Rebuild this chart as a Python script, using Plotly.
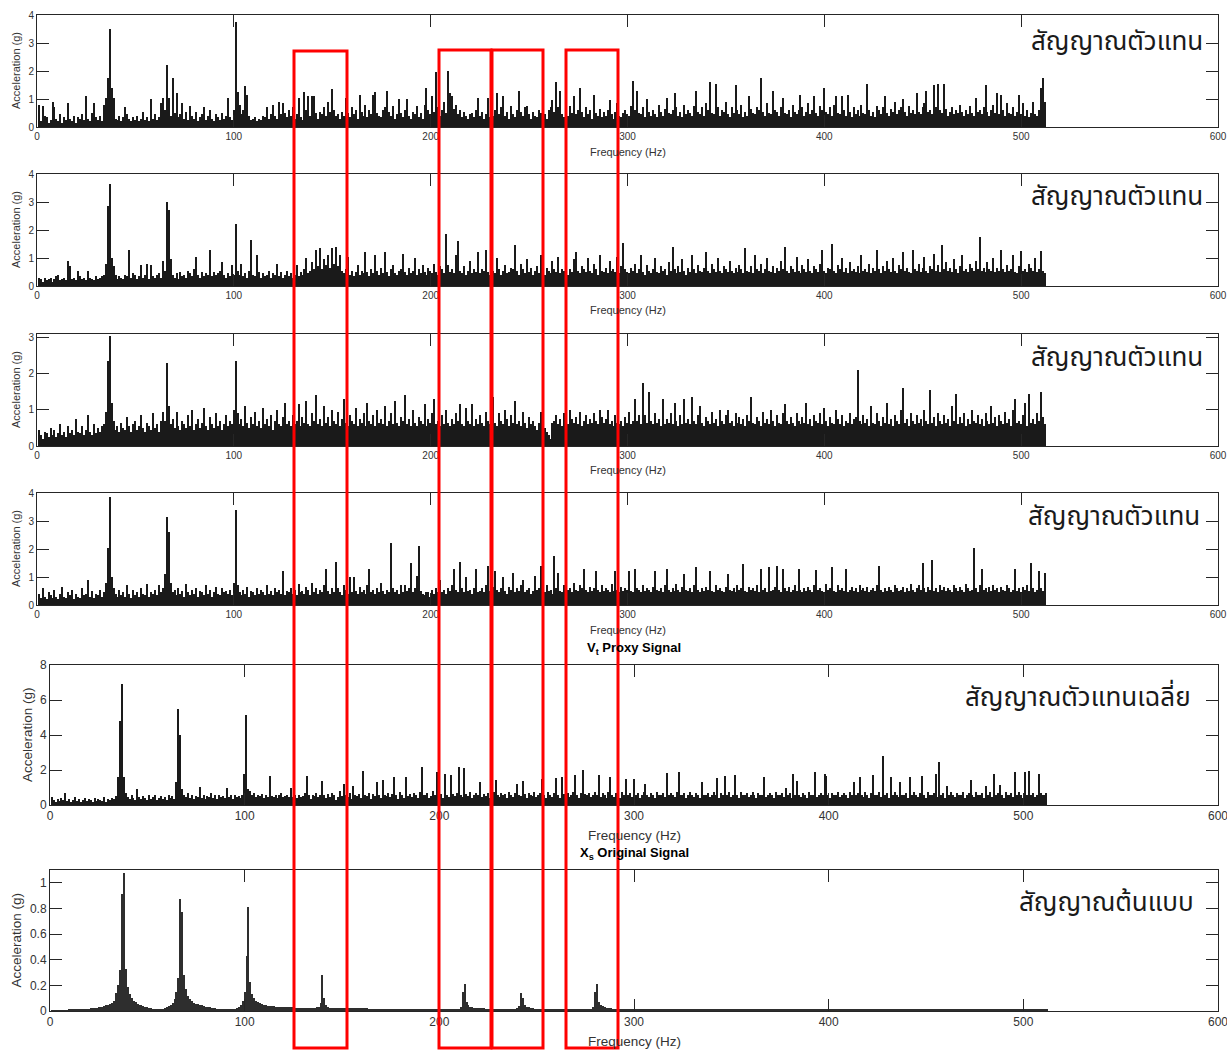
import plotly.graph_objects as go

# ---------------------------------------------------------------
# Spectrum data: 1 Hz bins from 1 to 512 Hz
# proxy spectra are stored in hundredths of g, the original in thousandths of g
# ---------------------------------------------------------------
FREQ_HZ = list(range(1, 513))

PROXY_1_CG = [
    80, 20, 75, 40, 35, 15, 25, 90, 70, 30, 20, 45, 15, 35, 25, 85, 30, 20, 40, 15, 35, 30, 45, 25, 110, 30, 20, 50, 85, 35, 25, 40,
    20, 80, 105, 175, 350, 140, 105, 30, 25, 40, 20, 35, 70, 45, 30, 20, 35, 25, 40, 20, 30, 55, 25, 35, 20, 100, 30, 45, 25, 35, 85, 105,
    60, 220, 105, 40, 175, 50, 120, 35, 45, 85, 30, 55, 25, 75, 40, 30, 55, 20, 35, 45, 70, 25, 40, 60, 30, 20, 45, 35, 25, 50, 30, 40,
    105, 35, 25, 60, 375, 125, 80, 45, 60, 145, 115, 40, 25, 30, 35, 20, 30, 25, 40, 35, 70, 30, 45, 80, 40, 30, 90, 45, 85, 50, 35, 60,
    40, 70, 30, 45, 105, 35, 25, 125, 60, 110, 40, 110, 110, 50, 30, 55, 45, 70, 40, 90, 55, 135, 60, 40, 45, 30, 55, 40, 105, 50, 35, 70,
    45, 60, 30, 115, 55, 40, 80, 35, 60, 45, 115, 125, 50, 40, 35, 60, 70, 130, 55, 40, 75, 30, 45, 100, 50, 35, 60, 100, 40, 30, 55, 45,
    75, 35, 50, 30, 80, 140, 60, 45, 110, 55, 195, 70, 40, 60, 90, 50, 200, 120, 110, 65, 80, 45, 60, 35, 55, 40, 30, 45, 50, 35, 60, 105,
    40, 55, 30, 45, 105, 35, 50, 40, 60, 120, 45, 70, 110, 40, 55, 30, 75, 45, 35, 60, 130, 55, 40, 70, 75, 45, 30, 55, 40, 35, 60, 50,
    120, 45, 30, 60, 70, 95, 55, 160, 70, 130, 45, 35, 60, 40, 75, 50, 110, 45, 60, 140, 55, 35, 70, 45, 60, 30, 115, 50, 40, 65, 35, 55,
    40, 60, 95, 45, 30, 55, 85, 40, 35, 50, 60, 45, 40, 75, 165, 60, 130, 50, 45, 70, 35, 100, 55, 40, 60, 45, 35, 80, 55, 40, 65, 105,
    50, 45, 60, 120, 70, 40, 55, 35, 80, 45, 60, 50, 40, 75, 130, 55, 45, 70, 40, 85, 60, 160, 50, 45, 155, 70, 40, 60, 55, 90, 45, 35,
    70, 50, 150, 60, 45, 80, 35, 55, 40, 110, 65, 50, 45, 70, 60, 175, 55, 40, 85, 50, 45, 130, 60, 55, 40, 70, 105, 50, 45, 60, 35, 80,
    55, 45, 60, 115, 70, 40, 55, 85, 45, 60, 110, 50, 40, 75, 60, 140, 55, 45, 70, 40, 80, 110, 50, 45, 110, 60, 40, 115, 55, 35, 70, 45,
    60, 40, 80, 50, 45, 155, 60, 40, 55, 35, 75, 60, 45, 70, 110, 50, 40, 65, 55, 90, 45, 60, 70, 100, 55, 40, 75, 50, 60, 45, 120, 55,
    45, 70, 85, 130, 55, 60, 45, 150, 70, 155, 60, 50, 155, 65, 40, 55, 70, 45, 60, 50, 80, 55, 40, 60, 45, 75, 50, 40, 105, 55, 60, 45,
    70, 150, 55, 40, 60, 80, 50, 120, 45, 115, 60, 40, 85, 50, 45, 70, 40, 55, 115, 45, 85, 40, 60, 35, 50, 90, 45, 40, 60, 140, 175, 90,
]

PROXY_2_CG = [
    30, 25, 15, 30, 20, 25, 30, 15, 25, 35, 40, 20, 25, 30, 20, 90, 70, 25, 30, 20, 55, 35, 25, 30, 20, 55, 30, 25, 20, 35, 25, 30,
    35, 40, 80, 285, 365, 100, 70, 40, 25, 35, 30, 25, 40, 35, 130, 30, 45, 40, 25, 35, 75, 30, 40, 80, 25, 75, 35, 30, 40, 45, 30, 90,
    55, 300, 270, 95, 40, 30, 45, 25, 50, 35, 40, 30, 55, 45, 35, 60, 105, 40, 30, 50, 35, 45, 40, 130, 35, 50, 40, 45, 55, 85, 40, 30,
    45, 35, 75, 40, 220, 55, 40, 80, 35, 45, 30, 55, 165, 40, 35, 110, 50, 30, 45, 35, 40, 55, 30, 45, 40, 80, 35, 50, 30, 40, 55, 35,
    45, 30, 40, 75, 35, 50, 40, 60, 100, 45, 55, 85, 60, 130, 70, 135, 60, 95, 75, 110, 65, 135, 80, 140, 70, 110, 55, 45, 60, 105, 40, 55,
    35, 50, 75, 40, 55, 45, 120, 50, 35, 60, 45, 110, 55, 40, 65, 45, 120, 50, 35, 60, 75, 45, 40, 55, 60, 115, 50, 40, 65, 45, 55, 100,
    40, 60, 45, 75, 50, 40, 65, 55, 45, 80, 50, 40, 70, 60, 45, 185, 75, 50, 60, 45, 110, 160, 55, 45, 70, 40, 55, 90, 45, 60, 50, 120,
    45, 60, 55, 130, 50, 40, 70, 55, 45, 100, 60, 40, 55, 75, 45, 50, 65, 60, 145, 55, 40, 80, 60, 45, 95, 50, 65, 40, 55, 70, 45, 110,
    50, 40, 65, 55, 45, 90, 60, 50, 105, 45, 60, 55, 75, 40, 60, 50, 95, 120, 55, 45, 70, 60, 50, 100, 55, 45, 80, 60, 40, 110, 55, 50,
    65, 45, 90, 55, 60, 50, 105, 45, 70, 155, 60, 50, 45, 65, 55, 80, 45, 60, 110, 50, 40, 75, 55, 45, 60, 100, 50, 45, 70, 55, 60, 40,
    85, 55, 140, 60, 45, 70, 50, 95, 55, 40, 65, 50, 110, 60, 45, 75, 55, 50, 65, 120, 55, 45, 80, 60, 50, 100, 55, 45, 70, 60, 50, 90,
    55, 45, 65, 50, 75, 60, 45, 135, 55, 50, 70, 45, 110, 60, 55, 80, 45, 60, 100, 55, 50, 70, 45, 65, 55, 90, 60, 140, 55, 45, 70, 60,
    50, 105, 55, 45, 75, 60, 50, 95, 55, 45, 70, 60, 50, 80, 130, 55, 45, 65, 60, 150, 55, 45, 75, 60, 100, 50, 65, 45, 85, 55, 60, 50,
    70, 45, 110, 55, 60, 50, 80, 45, 65, 55, 130, 60, 45, 70, 55, 90, 60, 50, 100, 55, 45, 75, 60, 120, 55, 65, 50, 45, 130, 60, 55, 80,
    50, 65, 105, 55, 45, 70, 60, 115, 55, 75, 50, 145, 60, 85, 55, 65, 50, 95, 60, 45, 70, 110, 55, 60, 50, 80, 65, 55, 90, 60, 175, 55,
    65, 50, 85, 60, 55, 100, 50, 65, 55, 130, 60, 50, 75, 55, 60, 110, 50, 45, 70, 125, 55, 60, 50, 80, 65, 55, 100, 50, 60, 125, 55, 45,
]

PROXY_3_CG = [
    45, 30, 20, 40, 35, 25, 50, 30, 45, 25, 35, 60, 30, 40, 25, 55, 35, 45, 30, 75, 40, 35, 55, 30, 45, 85, 40, 30, 60, 35, 50, 40,
    55, 60, 95, 235, 305, 120, 70, 45, 55, 40, 65, 50, 45, 80, 55, 40, 60, 70, 45, 55, 85, 50, 40, 65, 55, 45, 90, 50, 60, 40, 70, 95,
    70, 230, 110, 60, 75, 50, 95, 55, 45, 70, 60, 50, 85, 55, 100, 45, 60, 75, 50, 65, 105, 55, 45, 80, 60, 50, 90, 55, 70, 45, 60, 85,
    55, 70, 60, 100, 235, 90, 60, 75, 55, 110, 65, 50, 80, 60, 95, 55, 70, 50, 105, 60, 75, 55, 85, 45, 70, 100, 60, 55, 80, 120, 60, 70,
    55, 85, 60, 70, 115, 55, 80, 65, 125, 60, 55, 90, 70, 140, 60, 75, 55, 110, 65, 80, 55, 100, 70, 60, 95, 55, 75, 130, 65, 55, 85, 70,
    60, 105, 55, 75, 65, 90, 55, 120, 70, 60, 85, 55, 100, 65, 75, 60, 110, 55, 70, 90, 60, 125, 65, 55, 80, 70, 140, 60, 75, 55, 100, 65,
    55, 80, 70, 60, 115, 55, 75, 65, 90, 130, 60, 70, 55, 85, 60, 100, 65, 55, 75, 60, 90, 70, 115, 60, 55, 105, 70, 60, 115, 55, 75, 60,
    85, 65, 55, 95, 70, 60, 80, 135, 65, 55, 90, 70, 60, 100, 75, 55, 85, 65, 125, 60, 70, 55, 95, 65, 50, 80, 60, 70, 55, 45, 65, 95,
    60, 50, 40, 30, 20, 65, 70, 85, 60, 75, 55, 90, 70, 60, 100, 75, 65, 80, 60, 95, 55, 70, 85, 60, 75, 65, 90, 70, 60, 100, 80, 65,
    75, 100, 60, 70, 55, 85, 65, 60, 70, 55, 80, 65, 95, 60, 70, 130, 70, 85, 60, 175, 85, 65, 150, 70, 60, 90, 65, 75, 55, 130, 60, 75,
    65, 90, 60, 120, 70, 55, 85, 60, 130, 65, 75, 60, 135, 70, 60, 85, 110, 65, 55, 80, 70, 60, 95, 65, 75, 55, 100, 70, 60, 85, 100, 65,
    70, 55, 90, 65, 80, 60, 75, 55, 85, 70, 135, 65, 60, 80, 70, 55, 95, 65, 75, 60, 100, 70, 55, 85, 65, 60, 90, 115, 70, 60, 80, 65,
    55, 90, 70, 60, 80, 65, 120, 60, 75, 55, 85, 70, 65, 90, 60, 105, 70, 55, 80, 65, 60, 100, 75, 60, 85, 55, 70, 65, 90, 60, 75, 80,
    210, 70, 60, 85, 65, 75, 55, 110, 65, 60, 90, 70, 55, 80, 65, 120, 60, 75, 55, 85, 70, 60, 100, 160, 65, 75, 55, 90, 70, 60, 85, 65,
    75, 55, 100, 70, 60, 155, 65, 80, 55, 90, 70, 60, 85, 65, 75, 55, 110, 70, 145, 60, 80, 65, 90, 55, 75, 60, 100, 70, 65, 85, 60, 75,
    55, 90, 70, 60, 110, 65, 80, 55, 85, 70, 60, 95, 65, 75, 55, 100, 130, 65, 70, 60, 85, 120, 55, 145, 65, 75, 60, 90, 70, 150, 80, 60,
]

PROXY_4_CG = [
    40, 25, 60, 30, 20, 45, 35, 25, 55, 30, 20, 40, 65, 30, 25, 45, 35, 55, 20, 40, 30, 25, 60, 35, 40, 90, 30, 50, 25, 40, 35, 55,
    30, 45, 80, 205, 385, 100, 60, 40, 30, 55, 35, 45, 30, 70, 40, 25, 55, 35, 45, 30, 60, 40, 35, 75, 30, 45, 40, 55, 35, 70, 45, 60,
    110, 315, 260, 80, 45, 55, 35, 60, 40, 50, 30, 75, 45, 35, 55, 40, 60, 30, 50, 45, 35, 70, 40, 55, 30, 45, 65, 40, 35, 60, 45, 50,
    40, 55, 35, 80, 340, 70, 45, 35, 55, 40, 65, 30, 50, 45, 35, 60, 40, 55, 45, 35, 70, 40, 50, 35, 60, 45, 55, 40, 120, 35, 50, 45,
    60, 40, 55, 35, 75, 45, 50, 40, 65, 55, 35, 80, 45, 60, 40, 55, 45, 70, 130, 50, 40, 60, 45, 155, 60, 45, 35, 70, 55, 40, 100, 45,
    100, 50, 40, 65, 45, 55, 40, 70, 130, 45, 55, 40, 60, 45, 80, 50, 40, 55, 45, 220, 60, 45, 55, 40, 70, 45, 70, 50, 60, 150, 45, 60,
    105, 210, 50, 40, 35, 45, 45, 30, 55, 40, 60, 45, 90, 45, 55, 40, 60, 50, 70, 130, 55, 45, 155, 60, 45, 100, 50, 55, 40, 60, 130, 45,
    50, 60, 45, 70, 140, 50, 40, 65, 120, 55, 45, 60, 100, 50, 40, 65, 55, 115, 45, 60, 50, 70, 90, 45, 55, 60, 40, 50, 105, 55, 60, 140,
    60, 45, 70, 50, 55, 40, 175, 60, 115, 50, 45, 70, 135, 55, 60, 45, 80, 55, 50, 70, 60, 130, 55, 45, 65, 50, 60, 120, 55, 45, 70, 50,
    60, 55, 45, 75, 50, 120, 55, 45, 65, 50, 60, 55, 120, 50, 45, 130, 60, 55, 45, 70, 50, 60, 55, 45, 65, 120, 55, 50, 60, 45, 70, 130,
    55, 45, 60, 50, 75, 55, 45, 65, 110, 55, 50, 60, 45, 70, 135, 55, 45, 60, 50, 65, 55, 120, 50, 45, 70, 55, 60, 50, 45, 65, 110, 55,
    50, 60, 45, 70, 55, 60, 145, 50, 45, 65, 55, 60, 50, 70, 45, 130, 55, 60, 45, 135, 50, 55, 65, 140, 55, 45, 130, 60, 50, 65, 45, 55,
    70, 50, 130, 55, 45, 60, 50, 65, 55, 45, 70, 125, 55, 60, 50, 45, 75, 55, 60, 135, 50, 45, 70, 55, 60, 50, 130, 45, 55, 65, 50, 60,
    45, 70, 55, 60, 50, 65, 45, 55, 60, 50, 70, 140, 55, 45, 60, 50, 65, 55, 45, 70, 60, 50, 55, 65, 45, 60, 50, 75, 55, 45, 60, 70,
    55, 150, 60, 45, 65, 55, 160, 50, 60, 45, 70, 55, 65, 50, 60, 55, 45, 70, 60, 50, 65, 55, 45, 75, 60, 50, 55, 205, 60, 45, 70, 130,
    55, 60, 45, 65, 50, 70, 55, 60, 45, 65, 55, 50, 70, 60, 45, 55, 130, 50, 60, 45, 65, 55, 70, 50, 150, 60, 45, 55, 120, 60, 50, 115,
]

PROXY_MEAN_CG = [
    45, 30, 20, 35, 25, 40, 30, 70, 25, 35, 20, 30, 45, 25, 35, 20, 30, 40, 25, 35, 30, 20, 40, 25, 35, 30, 25, 45, 20, 35, 30, 40,
    35, 50, 160, 480, 690, 160, 70, 45, 35, 55, 40, 30, 90, 45, 35, 50, 40, 30, 55, 35, 45, 60, 30, 40, 50, 35, 45, 30, 55, 40, 50, 35,
    130, 550, 400, 90, 60, 45, 70, 40, 55, 35, 50, 45, 105, 40, 60, 35, 50, 45, 70, 40, 55, 35, 60, 45, 50, 40, 100, 45, 55, 35, 60, 45,
    50, 40, 60, 180, 515, 90, 80, 55, 70, 45, 60, 50, 65, 40, 55, 45, 165, 50, 45, 60, 40, 55, 70, 45, 50, 60, 45, 100, 45, 60, 40, 55,
    45, 50, 70, 165, 55, 35, 60, 50, 70, 45, 55, 140, 60, 40, 65, 45, 70, 55, 30, 45, 80, 50, 120, 60, 45, 70, 35, 110, 60, 50, 65, 40,
    195, 60, 50, 70, 35, 65, 50, 130, 60, 40, 145, 60, 50, 70, 45, 65, 160, 60, 35, 75, 55, 40, 160, 50, 65, 45, 70, 60, 40, 75, 215, 60,
    55, 70, 40, 50, 80, 60, 190, 55, 65, 40, 180, 60, 45, 170, 65, 50, 70, 220, 60, 45, 210, 65, 50, 75, 40, 55, 70, 60, 130, 45, 65, 50,
    70, 40, 55, 75, 145, 60, 45, 70, 55, 65, 40, 75, 60, 45, 70, 120, 60, 50, 140, 65, 40, 70, 60, 50, 75, 45, 55, 70, 150, 60, 40, 75,
    60, 45, 70, 155, 60, 40, 160, 65, 55, 70, 45, 55, 75, 170, 60, 40, 70, 200, 65, 55, 70, 45, 55, 75, 60, 170, 45, 70, 60, 40, 75, 160,
    60, 45, 70, 60, 40, 75, 60, 150, 55, 70, 45, 150, 55, 70, 40, 55, 75, 120, 60, 45, 70, 60, 40, 75, 60, 55, 70, 45, 185, 55, 70, 60,
    45, 75, 190, 60, 55, 70, 40, 55, 75, 60, 45, 70, 60, 40, 130, 60, 55, 70, 45, 55, 75, 60, 155, 40, 70, 60, 165, 55, 75, 45, 55, 170,
    60, 40, 75, 60, 55, 70, 45, 55, 75, 60, 40, 70, 60, 55, 160, 45, 55, 70, 60, 40, 75, 60, 55, 70, 45, 100, 55, 70, 40, 175, 55, 135,
    60, 45, 70, 60, 40, 75, 60, 55, 190, 45, 55, 70, 60, 180, 165, 60, 40, 70, 60, 55, 75, 45, 55, 70, 60, 40, 75, 60, 130, 55, 70, 160,
    60, 45, 75, 60, 40, 70, 170, 60, 55, 75, 45, 280, 55, 70, 40, 160, 55, 75, 60, 45, 130, 60, 55, 70, 40, 160, 55, 75, 60, 45, 70, 165,
    60, 40, 75, 60, 55, 70, 175, 45, 245, 55, 70, 40, 110, 55, 75, 60, 45, 70, 60, 55, 75, 40, 55, 70, 145, 60, 45, 75, 60, 55, 70, 40,
    110, 55, 75, 45, 180, 55, 70, 115, 60, 40, 75, 60, 55, 70, 45, 190, 55, 75, 60, 40, 190, 60, 195, 55, 70, 45, 55, 180, 70, 60, 55, 70,
]

ORIGINAL_MG = [
    3, 4, 4, 5, 5, 6, 6, 7, 7, 8, 9, 10, 11, 12, 13, 14, 15, 16, 18, 19, 21, 23, 25, 27, 29, 32, 35, 38, 45, 50, 56, 65,
    80, 140, 200, 320, 910, 1080, 330, 190, 130, 100, 80, 68, 58, 50, 44, 38, 33, 29, 25, 22, 19, 16, 14, 13, 15, 19, 24, 30, 38, 48, 62, 90,
    150, 260, 870, 770, 280, 170, 120, 92, 76, 66, 58, 52, 47, 43, 39, 35, 32, 29, 26, 23, 20, 17, 15, 13, 11, 10, 9, 9, 10, 12, 16, 22,
    30, 45, 80, 150, 430, 810, 230, 130, 100, 80, 68, 60, 54, 49, 45, 42, 40, 38, 36, 35, 34, 33, 32, 31, 30, 29, 29, 28, 28, 27, 27, 26,
    26, 26, 25, 25, 25, 25, 25, 26, 28, 35, 60, 280, 100, 45, 32, 27, 25, 24, 23, 22, 22, 21, 21, 21, 21, 21, 20, 20, 20, 20, 20, 20,
    20, 20, 20, 19, 19, 19, 19, 19, 19, 19, 19, 19, 19, 18, 18, 18, 18, 18, 18, 18, 18, 18, 18, 18, 18, 18, 18, 18, 17, 17, 17, 17,
    17, 17, 17, 17, 17, 17, 17, 17, 17, 17, 17, 17, 17, 17, 17, 17, 18, 19, 30, 145, 210, 70, 45, 35, 30, 27, 25, 23, 22, 21, 20, 19,
    18, 18, 17, 17, 16, 16, 16, 16, 15, 15, 15, 15, 15, 15, 17, 22, 40, 140, 100, 50, 35, 28, 24, 21, 19, 18, 17, 17, 16, 16, 15, 15,
    15, 14, 14, 14, 14, 14, 14, 14, 13, 13, 13, 13, 13, 13, 13, 13, 13, 13, 13, 13, 14, 18, 35, 150, 210, 70, 50, 38, 30, 25, 22, 20,
    18, 17, 16, 15, 15, 14, 14, 13, 13, 13, 12, 12, 12, 11, 11, 11, 11, 10, 10, 10, 10, 10, 10, 10, 10, 10, 9, 9, 9, 9, 9, 9,
    9, 9, 9, 9, 9, 9, 9, 9, 9, 9, 9, 9, 9, 9, 9, 9, 9, 9, 9, 9, 9, 9, 9, 9, 8, 8, 8, 8, 8, 8, 8, 8,
    8, 8, 8, 8, 8, 8, 8, 8, 8, 8, 8, 8, 8, 8, 8, 8, 8, 8, 8, 8, 8, 8, 8, 8, 8, 8, 8, 8, 8, 8, 8, 8,
    8, 8, 8, 8, 8, 8, 8, 8, 8, 8, 8, 8, 8, 8, 8, 8, 8, 8, 8, 8, 8, 8, 8, 8, 8, 8, 8, 8, 8, 8, 8, 8,
    8, 8, 8, 8, 8, 8, 8, 8, 8, 8, 8, 8, 8, 8, 8, 8, 8, 8, 8, 8, 8, 8, 8, 8, 8, 8, 8, 8, 8, 8, 8, 8,
    8, 8, 8, 8, 8, 8, 8, 8, 8, 8, 8, 8, 8, 8, 8, 8, 8, 8, 8, 8, 8, 8, 8, 8, 8, 8, 8, 8, 8, 8, 8, 8,
    8, 8, 8, 8, 8, 8, 8, 8, 8, 8, 8, 8, 8, 8, 8, 8, 8, 8, 8, 8, 8, 8, 8, 8, 8, 8, 8, 8, 8, 8, 8, 8,
]

X_TICKS = [0, 100, 200, 300, 400, 500, 600]
PANEL_LABELS = ["สัญญาณตัวแทน", "สัญญาณตัวแทน", "สัญญาณตัวแทน", "สัญญาณตัวแทน",
                "สัญญาณตัวแทนเฉลี่ย", "สัญญาณต้นแบบ"]
Y_TICKS = [[0, 1, 2, 3, 4], [0, 1, 2, 3, 4], [0, 1, 2, 3], [0, 1, 2, 3, 4],
           [0, 2, 4, 6, 8], [0, 0.2, 0.4, 0.6, 0.8, 1]]
Y_MAX = [4, 4, 3.1, 4, 8, 1.1]
SECTION_TITLES = ["<b>V<sub>t</sub> Proxy Signal</b>", "<b>X<sub>s</sub> Original Signal</b>"]

SERIES = [
    (PROXY_1_CG, 100.0), (PROXY_2_CG, 100.0), (PROXY_3_CG, 100.0),
    (PROXY_4_CG, 100.0), (PROXY_MEAN_CG, 100.0), (ORIGINAL_MG, 1000.0),
]
for vals, _ in SERIES:
    assert len(vals) == len(FREQ_HZ), len(vals)

# ---------------------------------------------------------------
# Page geometry (pixels) for each axes box: left, right, top, bottom
# ---------------------------------------------------------------
W, H = 1227, 1050
BOXES = [
    (37, 1218, 15, 127),
    (37, 1218, 174, 286),
    (37, 1218, 334, 446),
    (37, 1218, 493, 605),
    (50, 1218, 665, 805),
    (50, 1218, 870, 1011),
]
LABEL_RIGHT = [1205, 1205, 1205, 1202, 1193, 1196]
LABEL_Y = [42, 197, 358, 517, 698, 903]
XLABEL_Y = [152, 310, 470, 630, 835, 1041]


def fx(p):
    return p / W


def fy(p):
    return 1 - p / H


SANS = "Liberation Sans, Arial, Helvetica, sans-serif"
THAI = "Noto Sans Thai, Tahoma, Leelawadee UI, DejaVu Sans, sans-serif"
AXIS_COLOR = "#262626"

fig = go.Figure()
annotations = []

for i, ((vals, scale), box) in enumerate(zip(SERIES, BOXES)):
    n = i + 1
    left, right, top, bottom = box
    small = n <= 4
    tick_size = 10 if small else 12
    label_size = 11 if small else 13.5
    xa = "x" if n == 1 else f"x{n}"
    ya = "y" if n == 1 else f"y{n}"

    fig.add_trace(go.Bar(
        x=FREQ_HZ,
        y=[v / scale for v in vals],
        width=0.75 if n <= 5 else 0.6,
        marker=dict(color="#1a1a1a" if n <= 5 else "#2e2e2e", line=dict(width=0)),
        xaxis=xa, yaxis=ya,
        showlegend=False,
        hoverinfo="x+y",
    ))

    ticks = Y_TICKS[i]
    common = dict(
        showline=True, linecolor=AXIS_COLOR, linewidth=1, mirror="ticks",
        ticks="inside", ticklen=12, tickwidth=1, tickcolor=AXIS_COLOR,
        showgrid=False, zeroline=False, automargin=False,
        ticklabeloverflow="allow",
        tickfont=dict(family=SANS, size=tick_size, color="#333333"),
    )
    fig.update_layout(**{
        ("xaxis" if n == 1 else f"xaxis{n}"): dict(
            domain=[fx(left), fx(right)], anchor=ya, range=[0, 600],
            tickmode="array", tickvals=X_TICKS, ticktext=[str(t) for t in X_TICKS],
            **common,
        ),
        ("yaxis" if n == 1 else f"yaxis{n}"): dict(
            domain=[fy(bottom), fy(top)], anchor=xa, range=[0, Y_MAX[i]],
            tickmode="array", tickvals=ticks, ticktext=[f"{t:g}" for t in ticks],
            **common,
        ),
    })

    # axis titles
    ylab_x = 16 if n != 5 else 27
    annotations.append(dict(
        x=fx(ylab_x), y=fy((top + bottom) / 2), xref="paper", yref="paper",
        text="Acceleration (g)", textangle=-90, showarrow=False,
        xanchor="center", yanchor="middle",
        font=dict(family=SANS, size=label_size, color="#333333"),
    ))
    annotations.append(dict(
        x=fx((left + right) / 2), y=fy(XLABEL_Y[i]), xref="paper", yref="paper",
        text="Frequency (Hz)", showarrow=False,
        xanchor="center", yanchor="middle",
        font=dict(family=SANS, size=label_size, color="#333333"),
    ))

    # panel caption in Thai, top right
    annotations.append(dict(
        x=fx(LABEL_RIGHT[i]), y=fy(LABEL_Y[i]), xref="paper", yref="paper",
        text=PANEL_LABELS[i], showarrow=False,
        xanchor="right", yanchor="middle",
        font=dict(family=THAI, size=26, color="#1a1a1a"),
    ))

# section titles
for title, ypx in zip(SECTION_TITLES, [648, 853]):
    annotations.append(dict(
        x=fx(634), y=fy(ypx), xref="paper", yref="paper",
        text=title, showarrow=False, xanchor="center", yanchor="middle",
        font=dict(family=SANS, size=13, color="#000000"),
    ))

# highlighted frequency bands (red frames spanning all panels)
BANDS_PX = [(294, 347), (439, 491), (492, 543), (566, 618)]
BAND_TOP = [51, 50, 50, 50]
shapes = []
for (x0, x1), t in zip(BANDS_PX, BAND_TOP):
    shapes.append(dict(
        type="rect", xref="paper", yref="paper",
        x0=fx(x0), x1=fx(x1), y0=fy(1048), y1=fy(t),
        line=dict(color="#ff0000", width=3), fillcolor="rgba(0,0,0,0)",
        layer="above",
    ))

fig.update_layout(
    width=W, height=H,
    margin=dict(l=0, r=0, t=0, b=0, autoexpand=False),
    paper_bgcolor="white", plot_bgcolor="white",
    bargap=0, showlegend=False,
    annotations=annotations, shapes=shapes,
)

fig.write_html("out.html")
